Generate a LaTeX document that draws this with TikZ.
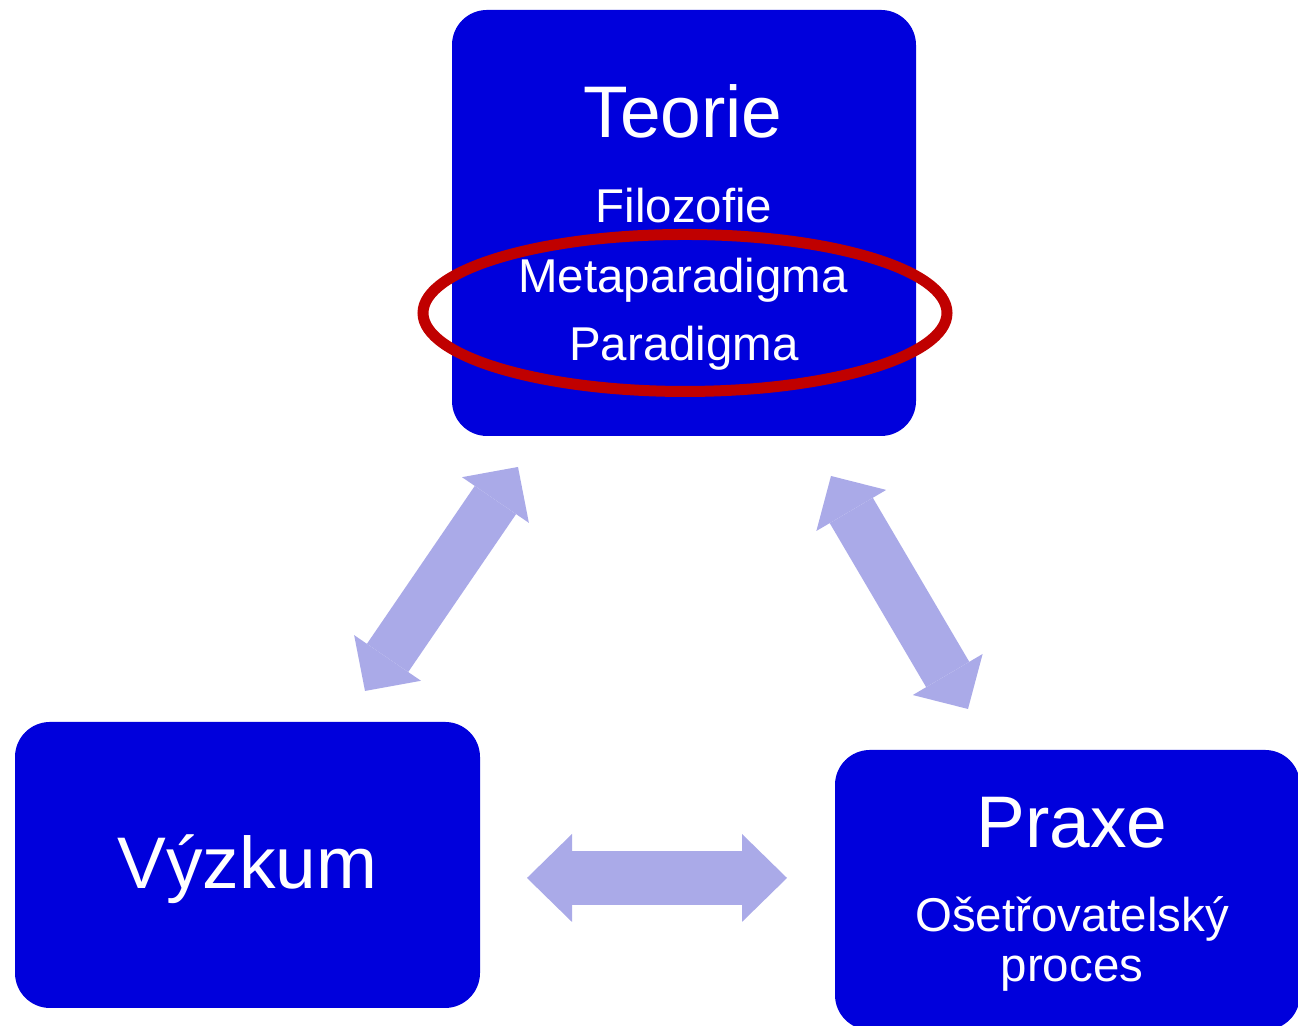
\documentclass[tikz,border=0pt]{standalone}
\usepackage{fontspec}
\setmainfont{Liberation Sans}
\usetikzlibrary{arrows.meta, positioning}
\definecolor{boxblue}{RGB}{0,0,220}
\definecolor{arrowblue}{RGB}{170,170,232}
\definecolor{ringred}{RGB}{192,0,0}
\tikzset{
  pillar/.style={rectangle, fill=boxblue, rounded corners=0.35cm,
    inner sep=0pt},
  bigtext/.style={anchor=base, inner sep=0pt, text=white,
    font=\fontsize{20.8}{25}\selectfont},
  smalltext/.style={anchor=base, inner sep=0pt, text=white,
    font=\fontsize{13.5}{16}\selectfont},
  biarrow/.style={draw=arrowblue, line width=0.50cm,
    {Triangle[width=0.81cm, length=0.40cm, line width=0pt]}-{Triangle[width=0.81cm, length=0.40cm, line width=0pt]}},
  widearrow/.style={draw=arrowblue, line width=0.54cm,
    {Triangle[width=0.88cm, length=0.45cm, line width=0pt]}-{Triangle[width=0.88cm, length=0.45cm, line width=0pt]}},
  ring/.style={draw=ringred, line width=0.11cm}
}

\begin{document}
\begin{tikzpicture}
  \useasboundingbox (0,0) rectangle (12.98,10.26);
  \clip (0,0) rectangle (12.98,10.26);

  % ── the three boxes ──
  \node[pillar, minimum width=4.64cm, minimum height=4.26cm] (teorie) at (6.84, 8.03) {};
  \node[pillar, minimum width=4.65cm, minimum height=2.86cm] (vyzkum) at (2.475, 1.61) {};
  \node[pillar, minimum width=4.65cm, minimum height=2.80cm] (praxe) at (10.675, 1.36) {};

  % ── red ring round the two paradigm lines ──
  \draw[ring] (6.85, 7.13) ellipse [x radius=2.62cm, y radius=0.785cm];

  % ── texts ──
  \node[bigtext]   (teorietxt) at (6.83, 8.88) {Teorie};
  \node[smalltext] (filo)      at (6.84, 8.03) {Filozofie};
  \node[smalltext] (meta)      at (6.83, 7.33) {Metaparadigma};
  \node[smalltext] (para)      at (6.84, 6.65) {Paradigma};
  \node[bigtext]   (vyzkumtxt) at (2.475, 1.37) {Výzkum};
  \node[bigtext]   (praxetxt)  at (10.72, 1.78) {Praxe};
  \node[smalltext] (oset)      at (10.72, 0.94) {Ošetřovatelský};
  \node[smalltext] (proc)      at (10.72, 0.44) {proces};

  % ── arrow ends ──
  \coordinate (tv1) at (5.18, 5.59);
  \coordinate (tv2) at (3.65, 3.35);
  \coordinate (tp1) at (8.31, 5.50);
  \coordinate (tp2) at (9.68, 3.17);
  \coordinate (vp1) at (5.27, 1.48);
  \coordinate (vp2) at (7.87, 1.48);

  \draw[biarrow]   (tv1) -- (tv2);
  \draw[biarrow]   (tp1) -- (tp2);
  \draw[widearrow] (vp1) -- (vp2);
\end{tikzpicture}
\end{document}
